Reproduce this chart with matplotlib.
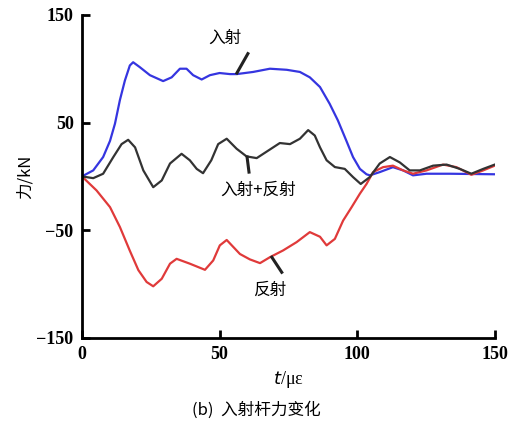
import matplotlib
matplotlib.use("Agg")
import matplotlib.pyplot as plt

# incident wave (blue)
t_inc = [0, 4.1, 7.7, 10.2, 12, 13.8, 15.6, 17.4, 18.6, 21, 24.7, 29.5, 32.6, 35.6, 38, 40.4,
         43.5, 46.5, 50, 53.8, 56.2, 62.2, 68.3, 74.4, 79.2, 82.8, 86.5, 90, 93, 96.1, 98.5,
         101, 103.4, 104.6, 108.2, 113, 116.7, 120.3, 125.2, 133.7, 150]
f_inc = [0, 5.6, 18, 33, 49, 71, 89, 103, 106, 101.5, 94, 88.5, 92, 100, 100, 94,
         90, 94, 96, 95, 95, 97, 100, 99, 97, 92, 83, 67.5, 52, 33, 18,
         7, 2, 1, 4, 8.6, 5.6, 1, 2.5, 2.5, 2]

# incident + reflected (black)
t_sum = [0, 4.1, 7.7, 11.4, 14.4, 16.8, 19.3, 22.3, 25.9, 29, 32, 36.2, 39.2, 41.7, 44, 47,
         49.5, 52.6, 56.2, 59.8, 63.5, 68.3, 71.9, 75.6, 79.2, 82.2, 84.6, 86.5, 88.9, 91.9,
         95.5, 98.5, 101.3, 104.6, 108.2, 111.9, 115.5, 119.1, 122.8, 127.6, 132.5, 137.3,
         141.5, 145.8, 150]
f_sum = [0, -1.6, 2.5, 18, 30, 34, 27, 5.6, -10, -3.7, 12, 21, 15, 7, 3, 15,
         30, 35, 25.7, 18.6, 17, 25, 31, 30, 35, 43, 38, 27, 15, 8.7,
         7, -0.6, -7, -0.6, 12, 18, 13, 5.6, 5.6, 10, 11, 7,
         2.5, 7, 11]

# reflected wave (red)
t_ref = [0, 5.3, 10.2, 13.8, 17.4, 20.5, 23.5, 25.9, 29, 32, 34.4, 39.2, 44.7, 47.7, 50.1,
         52.6, 57.4, 61, 64.7, 68.3, 73.1, 78, 82.8, 86.5, 88.9, 91.9, 94.9, 98, 101, 103.4,
         105.8, 109.4, 113, 116.7, 120.3, 125.2, 131.2, 136.1, 141.5, 145.8, 150]
f_ref = [0, -13, -28.5, -47, -69, -87, -98, -102, -95, -81, -76.5, -81, -86.7, -78, -64,
         -59, -72, -77, -80.5, -75, -68.7, -61, -51.7, -56, -64, -58, -41, -28.5, -16, -7,
         4, 8.6, 10, 5.6, 2.5, 5.6, 11, 8.6, 1.5, 5.6, 10]

xticks = [0, 50, 100, 150]
yticks = [-150, -50, 50, 150]

plt.rcParams['font.family'] = ['Noto Sans CJK SC', 'DejaVu Sans']

fig = plt.figure(figsize=(5.09, 4.32), dpi=100)
ax = fig.add_axes([0.161, 0.2176, 0.811, 0.748])

ax.plot(t_inc, f_inc, color='#3535e0', lw=1.6)
ax.plot(t_ref, f_ref, color='#e03a3a', lw=1.6)
ax.plot(t_sum, f_sum, color='#333333', lw=1.6)

ax.set_xlim(0, 150)
ax.set_ylim(-150, 150)
ax.set_xticks(xticks)
ax.set_yticks(yticks)
for s in ['top', 'right']:
    ax.spines[s].set_visible(False)
for s in ['left', 'bottom']:
    ax.spines[s].set_linewidth(2)
ax.tick_params(direction='in', length=6, width=2, pad=6)
for lab in ax.get_xticklabels() + ax.get_yticklabels():
    lab.set_family('Liberation Serif')
    lab.set_fontweight('bold')
    lab.set_fontsize(13)

# annotations
ax.text(52, 128, '入射', ha='center', va='center', fontsize=12)
ax.plot([60.3, 56.3], [114, 96], color='#222222', lw=2.2)
ax.text(64, -13, '入射+反射', ha='center', va='center', fontsize=12)
ax.plot([60, 60.7], [18, 4], color='#222222', lw=2.2)
ax.text(68.3, -106, '反射', ha='center', va='center', fontsize=12)
ax.plot([69, 72.6], [-75, -89], color='#222222', lw=2.2)

ax.set_ylabel('力/kN', fontsize=12, labelpad=2)
ax.set_xlabel(r'$t$/με', fontsize=13, family='Liberation Serif', labelpad=4)
fig.text(0.503, 0.05, '(b)  入射杆力变化', ha='center', va='center', fontsize=12)

fig.savefig('out.png', dpi=100)
